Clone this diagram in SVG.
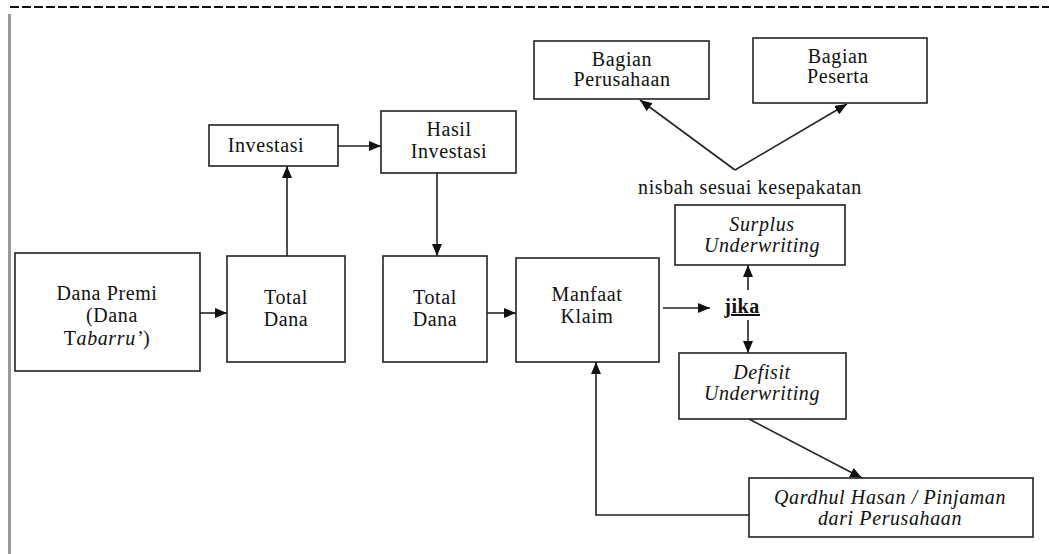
<svg xmlns="http://www.w3.org/2000/svg" width="1049" height="554" viewBox="0 0 1049 554">
<defs>
<marker id="ah" viewBox="0 0 12 10" refX="12" refY="5" markerWidth="12" markerHeight="10" markerUnits="userSpaceOnUse" orient="auto">
<path d="M0,0 L12,5 L0,10 Z" fill="#111"/>
</marker>
</defs>
<style>
.box{fill:#fff;stroke:#222;stroke-width:1.6}
.t{font-family:"Liberation Serif","Times New Roman",serif;font-size:20px;fill:#111;text-anchor:middle;letter-spacing:0.6px}
.i{font-style:italic}
.c{fill:none;stroke:#222;stroke-width:1.6}
.ca{fill:none;stroke:#222;stroke-width:1.6;marker-end:url(#ah)}
</style>
<rect width="1049" height="554" fill="#fff"/>
<line x1="10" y1="7" x2="1049" y2="7" stroke="#111" stroke-width="2.2" stroke-dasharray="9,3"/>
<line x1="9.5" y1="14" x2="9.5" y2="554" stroke="#999" stroke-width="3"/>

<g id="connectors">
<line class="ca" x1="200" y1="313" x2="227" y2="313"/>
<line class="ca" x1="287" y1="256" x2="287" y2="166"/>
<line class="ca" x1="338" y1="146" x2="381" y2="146"/>
<line class="ca" x1="437" y1="173" x2="437" y2="256"/>
<line class="ca" x1="487" y1="313" x2="516" y2="313"/>
<line class="ca" x1="663" y1="308" x2="710" y2="308"/>
<line class="ca" x1="748" y1="290" x2="748" y2="265"/>
<line class="ca" x1="748" y1="320" x2="748" y2="353"/>
<line class="ca" x1="749" y1="419" x2="862" y2="478"/>
<polyline class="ca" points="749,515 596,515 596,362"/>
<line class="ca" x1="735" y1="170" x2="640" y2="100"/>
<line class="ca" x1="735" y1="170" x2="847" y2="104"/>
<text class="t" x="750" y="194">nisbah sesuai kesepakatan</text>
</g>

<g id="dana-premi">
<rect class="box" x="15" y="253" width="185" height="118"/>
<text class="t" x="107" y="300">Dana Premi</text>
<text class="t" x="112" y="322">(Dana</text>
<text class="t" x="107" y="345">T<tspan class="i">abarru’</tspan>)</text>
</g>
<g id="total-dana-1">
<rect class="box" x="227" y="256" width="118" height="106"/>
<text class="t" x="286" y="304">Total</text>
<text class="t" x="286" y="326">Dana</text>
</g>
<g id="investasi">
<rect class="box" x="209" y="125" width="129" height="41"/>
<text class="t" x="266" y="152">Investasi</text>
</g>
<g id="hasil-investasi">
<rect class="box" x="381" y="111" width="135" height="62"/>
<text class="t" x="449" y="136">Hasil</text>
<text class="t" x="449" y="158">Investasi</text>
</g>
<g id="total-dana-2">
<rect class="box" x="383" y="256" width="104" height="106"/>
<text class="t" x="435" y="304">Total</text>
<text class="t" x="435" y="326">Dana</text>
</g>
<g id="manfaat-klaim">
<rect class="box" x="516" y="258" width="143" height="104"/>
<text class="t" x="587" y="301">Manfaat</text>
<text class="t" x="587" y="323">Klaim</text>
</g>
<g id="jika">
<text class="t" x="742" y="313" font-weight="bold" text-decoration="underline">jika</text>
</g>
<g id="surplus">
<rect class="box" x="675" y="205" width="170" height="60"/>
<text class="t i" x="762" y="231">Surplus</text>
<text class="t i" x="762" y="252">Underwriting</text>
</g>
<g id="defisit">
<rect class="box" x="679" y="353" width="167" height="66"/>
<text class="t i" x="762" y="379">Defisit</text>
<text class="t i" x="762" y="400">Underwriting</text>
</g>
<g id="qardhul">
<rect class="box" x="749" y="478" width="284" height="59"/>
<text class="t i" x="890" y="504">Qardhul Hasan / Pinjaman</text>
<text class="t i" x="890" y="525">dari Perusahaan</text>
</g>
<g id="bagian-perusahaan">
<rect class="box" x="534" y="41" width="175" height="58"/>
<text class="t" x="622" y="66">Bagian</text>
<text class="t" x="622" y="86">Perusahaan</text>
</g>
<g id="bagian-peserta">
<rect class="box" x="753" y="38" width="174" height="65"/>
<text class="t" x="838" y="63">Bagian</text>
<text class="t" x="838" y="83">Peserta</text>
</g>
</svg>
